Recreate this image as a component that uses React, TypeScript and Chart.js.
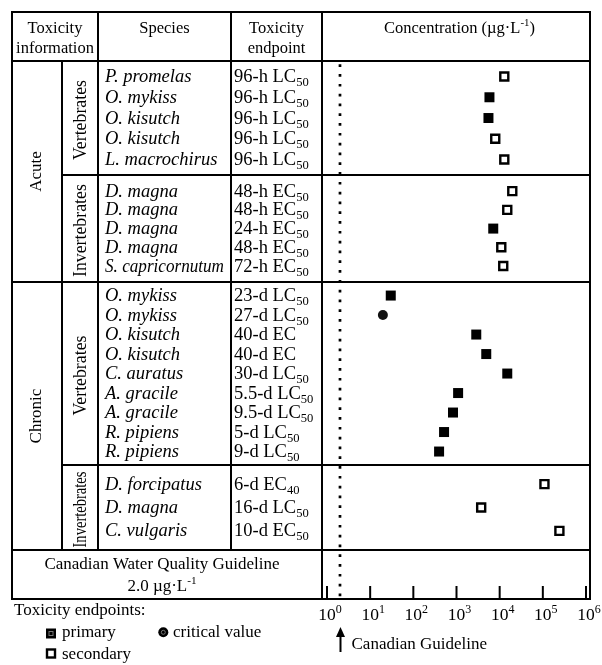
import { useEffect, useRef } from 'react';
import { Chart, registerables } from 'chart.js';

Chart.register(...registerables);

// ---------- data ----------
const GROUP_DURATION = ['Acute', 'Acute', 'Chronic', 'Chronic'];
const GROUP_TAXON = ['Vertebrates', 'Invertebrates', 'Vertebrates', 'Invertebrates'];
const GROUP_SIZE = [5, 5, 9, 3];

const SPECIES = [
  'P. promelas', 'O. mykiss', 'O. kisutch', 'O. kisutch', 'L. macrochirus',
  'D. magna', 'D. magna', 'D. magna', 'D. magna', 'S. capricornutum',
  'O. mykiss', 'O. mykiss', 'O. kisutch', 'O. kisutch', 'C. auratus',
  'A. gracile', 'A. gracile', 'R. pipiens', 'R. pipiens',
  'D. forcipatus', 'D. magna', 'C. vulgaris',
];

const ENDPOINTS = [
  '96-h LC_{50}', '96-h LC_{50}', '96-h LC_{50}', '96-h LC_{50}', '96-h LC_{50}',
  '48-h EC_{50}', '48-h EC_{50}', '24-h EC_{50}', '48-h EC_{50}', '72-h EC_{50}',
  '23-d LC_{50}', '27-d LC_{50}', '40-d EC', '40-d EC', '30-d LC_{50}',
  '5.5-d LC_{50}', '9.5-d LC_{50}', '5-d LC_{50}', '9-d LC_{50}',
  '6-d EC_{40}', '16-d LC_{50}', '10-d EC_{50}',
];

// concentration, µg/L
const CONCENTRATION = [
  12800, 5800, 5500, 7900, 12800,
  19600, 15000, 7100, 10900, 12100,
  30, 19.7, 2870, 4890, 15000,
  1090, 830, 515, 395,
  109000, 3730, 242000,
];

const ENDPOINT_TYPE = [
  'secondary', 'primary', 'primary', 'secondary', 'secondary',
  'secondary', 'secondary', 'primary', 'secondary', 'secondary',
  'primary', 'critical', 'primary', 'primary', 'primary',
  'primary', 'primary', 'primary', 'primary',
  'secondary', 'secondary', 'secondary',
];

const GUIDELINE = 2.0;
const TICK_EXPONENTS = [0, 1, 2, 3, 4, 5, 6];

// ---------- layout (row units) ----------
const GROUP_SPAN = [5.85, 5.49, 9.38, 4.36];
const GROUP_PITCH = [1.065, 0.96, 1.0, 1.2];

const rowPos: number[] = [];
const groupStart: number[] = [];
let acc = 0;
GROUP_SIZE.forEach((n, g) => {
  groupStart.push(acc);
  const first = acc + (GROUP_SPAN[g] - (n - 1) * GROUP_PITCH[g]) / 2;
  for (let i = 0; i < n; i++) rowPos.push(first + i * GROUP_PITCH[g]);
  acc += GROUP_SPAN[g];
});
groupStart.push(acc);
const Y_TOTAL = acc;

const pointsOf = (t: string) =>
  CONCENTRATION.map((c, i) => ({ x: c, y: rowPos[i], t: ENDPOINT_TYPE[i] }))
    .filter((p) => p.t === t)
    .map((p) => ({ x: p.x, y: p.y }));

const FONT = '"Liberation Serif", "Times New Roman", serif';

type Seg = { text: string; kind: 'n' | 'sup' | 'sub' };
function parseRich(s: string): Seg[] {
  const parts = s.split(/(\^\{[^}]*\}|_\{[^}]*\})/).filter((p) => p.length);
  return parts.map((p) => {
    if (p.startsWith('^{')) return { text: p.slice(2, -1), kind: 'sup' as const };
    if (p.startsWith('_{')) return { text: p.slice(2, -1), kind: 'sub' as const };
    return { text: p, kind: 'n' as const };
  });
}

function drawRich(
  ctx: CanvasRenderingContext2D,
  s: string,
  x: number,
  y: number,
  size: number,
  align: 'left' | 'center' = 'left',
  italic = false,
  maxW?: number,
) {
  const segs = parseRich(s);
  const fontFor = (k: string) => {
    const sz = k === 'n' ? size : k === 'sup' ? size * 0.66 : size * 0.68;
    return `${italic && k === 'n' ? 'italic ' : ''}${sz}px ${FONT}`;
  };
  ctx.textAlign = 'left';
  ctx.textBaseline = 'alphabetic';
  const widths = segs.map((sg) => {
    ctx.font = fontFor(sg.kind);
    return ctx.measureText(sg.text).width;
  });
  const total = widths.reduce((a, b) => a + b, 0);
  const k = maxW && total > maxW ? maxW / total : 1;
  let cx = align === 'center' ? x - (total * k) / 2 : x;
  segs.forEach((sg, i) => {
    ctx.font = fontFor(sg.kind);
    const dy = sg.kind === 'sup' ? -size * 0.4 : sg.kind === 'sub' ? size * 0.22 : 0;
    ctx.fillText(sg.text, cx, y + dy, widths[i] * k);
    cx += widths[i] * k;
  });
}

function line(ctx: CanvasRenderingContext2D, x1: number, y1: number, x2: number, y2: number) {
  ctx.beginPath();
  ctx.moveTo(x1, y1);
  ctx.lineTo(x2, y2);
  ctx.stroke();
}

const tablePlugin = {
  id: 'toxTable',
  beforeDatasetsDraw(chart: any) {
    const ctx: CanvasRenderingContext2D = chart.ctx;
    const xs = chart.scales.x;
    const ys = chart.scales.y;
    const area = chart.chartArea;
    const X0 = 12, X1 = 62, X2 = 98, X3 = 231;
    const X4 = area.left - 5;
    const X5 = area.right + 4;
    const Y0 = 12, YH = area.top;
    const YD = area.bottom;
    const YB = 599;

    ctx.save();
    ctx.strokeStyle = '#000';
    ctx.lineWidth = 2;
    ctx.lineCap = 'square';
    // outer
    line(ctx, X0, Y0, X5, Y0);
    line(ctx, X0, Y0, X0, YB);
    line(ctx, X5, Y0, X5, YB);
    line(ctx, X0, YB, X5, YB);
    line(ctx, X0, YH, X5, YH);
    line(ctx, X0, YD, X5, YD);
    // verticals
    line(ctx, X1, YH, X1, YD);
    line(ctx, X2, Y0, X2, YD);
    line(ctx, X3, Y0, X3, YD);
    line(ctx, X4, Y0, X4, YB);
    // group boundaries
    for (let g = 1; g < GROUP_SIZE.length; g++) {
      const py = Math.round(ys.getPixelForValue(groupStart[g]));
      const from = GROUP_DURATION[g] !== GROUP_DURATION[g - 1] ? X0 : X1;
      line(ctx, from, py, X5, py);
    }
    // ticks
    ctx.lineCap = 'butt';
    TICK_EXPONENTS.forEach((e) => {
      const px = xs.getPixelForValue(Math.pow(10, e));
      line(ctx, px, YB - 13, px, YB);
    });
    // guideline dotted
    const gx = xs.getPixelForValue(GUIDELINE);
    ctx.lineWidth = 2.7;
    ctx.setLineDash([2.7, 7.1]);
    line(ctx, gx, YH + 3.3, gx, YB);
    ctx.setLineDash([]);
    ctx.restore();
  },
  afterDatasetsDraw(chart: any) {
    const ctx: CanvasRenderingContext2D = chart.ctx;
    const xs = chart.scales.x;
    const ys = chart.scales.y;
    const area = chart.chartArea;
    ctx.save();
    ctx.fillStyle = '#000';

    // header
    const H = 16.5;
    drawRich(ctx, 'Toxicity', 55, 33, H, 'center');
    drawRich(ctx, 'information', 55, 53, H, 'center');
    drawRich(ctx, 'Species', 164.5, 33, H, 'center');
    drawRich(ctx, 'Toxicity', 276.5, 33, H, 'center');
    drawRich(ctx, 'endpoint', 276.5, 53, H, 'center');
    drawRich(ctx, 'Concentration (µg·L^{-1})', (area.left + area.right) / 2 + 3, 33, H, 'center');

    // rows
    const R = 18.5;
    SPECIES.forEach((sp, i) => {
      const py = ys.getPixelForValue(rowPos[i]) + 5.5;
      drawRich(ctx, sp, 105, py, R, 'left', true, 119);
      drawRich(ctx, ENDPOINTS[i], 234, py, R, 'left', false, 85);
    });

    // rotated labels
    const rot = (t: string, x: number, y: number, size: number, maxW?: number) => {
      ctx.save();
      ctx.translate(x, y);
      ctx.rotate(-Math.PI / 2);
      ctx.font = `${size}px ${FONT}`;
      ctx.textAlign = 'center';
      ctx.textBaseline = 'middle';
      if (maxW) ctx.fillText(t, 0, 0, maxW);
      else ctx.fillText(t, 0, 0);
      ctx.restore();
    };
    GROUP_TAXON.forEach((t, g) => {
      const y1 = ys.getPixelForValue(groupStart[g]);
      const y2 = ys.getPixelForValue(groupStart[g + 1]);
      const small = y2 - y1 < 100;
      rot(t, 81, (y1 + y2) / 2 + 2, 17.8, small ? 76 : undefined);
    });
    const durations = Array.from(new Set(GROUP_DURATION));
    durations.forEach((d) => {
      const gs = GROUP_DURATION.map((v, i) => (v === d ? i : -1)).filter((i) => i >= 0);
      const y1 = ys.getPixelForValue(groupStart[gs[0]]);
      const y2 = ys.getPixelForValue(groupStart[gs[gs.length - 1] + 1]);
      rot(d, 37, (y1 + y2) / 2, 17);
    });

    // bottom box
    drawRich(ctx, 'Canadian Water Quality Guideline', 162, 569, 17, 'center');
    drawRich(ctx, GUIDELINE.toFixed(1) + ' µg·L^{-1}', 162, 591, 17, 'center');

    // tick labels
    TICK_EXPONENTS.forEach((e) => {
      const px = xs.getPixelForValue(Math.pow(10, e));
      ctx.font = `17.5px ${FONT}`;
      ctx.textAlign = 'center';
      ctx.textBaseline = 'alphabetic';
      ctx.fillText('10', px, 620);
      const w = ctx.measureText('10').width;
      ctx.font = `12px ${FONT}`;
      ctx.textAlign = 'left';
      ctx.fillText(String(e), px + w / 2, 613);
    });

    // guideline arrow
    const gx = xs.getPixelForValue(GUIDELINE) + 0.5;
    ctx.strokeStyle = '#000';
    ctx.lineWidth = 2;
    line(ctx, gx, 634, gx, 652);
    ctx.beginPath();
    ctx.moveTo(gx, 627);
    ctx.lineTo(gx - 4.5, 637);
    ctx.lineTo(gx + 4.5, 637);
    ctx.closePath();
    ctx.fill();
    drawRich(ctx, 'Canadian Guideline', gx + 11, 649, 17, 'left');

    // legend
    drawRich(ctx, 'Toxicity endpoints:', 14, 615, 17, 'left');
    // primary
    ctx.fillStyle = '#000';
    ctx.fillRect(46, 628.5, 10, 10);
    ctx.strokeStyle = '#777';
    ctx.lineWidth = 1;
    ctx.strokeRect(49, 631.5, 4, 4);
    ctx.fillStyle = '#000';
    drawRich(ctx, 'primary', 62, 637, 17, 'left');
    // critical
    ctx.beginPath();
    ctx.arc(163.3, 632.3, 5, 0, Math.PI * 2);
    ctx.fill();
    ctx.strokeStyle = '#777';
    ctx.beginPath();
    ctx.arc(163.3, 632.3, 2, 0, Math.PI * 2);
    ctx.stroke();
    drawRich(ctx, 'critical value', 173, 637, 17, 'left');
    // secondary
    ctx.strokeStyle = '#000';
    ctx.lineWidth = 2.4;
    ctx.fillStyle = '#fff';
    ctx.fillRect(47, 649.5, 8, 8);
    ctx.strokeRect(47, 649.5, 8, 8);
    ctx.fillStyle = '#000';
    drawRich(ctx, 'secondary', 62, 659, 17, 'left');

    ctx.restore();
  },
};

export default function App() {
  const ref = useRef<HTMLCanvasElement | null>(null);
  useEffect(() => {
    if (!ref.current) return;
    const primary = pointsOf('primary');
    const secondary = pointsOf('secondary');
    const critical = pointsOf('critical');
    const chart = new Chart(ref.current, {
      type: 'scatter',
      data: {
        datasets: [
          {
            label: 'primary',
            data: primary,
            pointStyle: 'rect',
            pointRadius: 7.07,
            backgroundColor: '#000',
            borderColor: '#000',
            borderWidth: 0,
          },
          {
            label: 'primary-inner',
            data: primary,
            pointStyle: 'rect',
            pointRadius: 2.6,
            backgroundColor: 'rgba(0,0,0,0)',
            borderColor: '#777',
            borderWidth: 1,
          },
          {
            label: 'secondary',
            data: secondary,
            pointStyle: 'rect',
            pointRadius: 5.66,
            backgroundColor: '#fff',
            borderColor: '#000',
            borderWidth: 2.4,
          },
          {
            label: 'critical',
            data: critical,
            pointStyle: 'circle',
            pointRadius: 5,
            backgroundColor: '#111',
            borderColor: '#000',
            borderWidth: 0,
          },
          {
            label: 'critical-inner',
            data: critical,
            pointStyle: 'circle',
            pointRadius: 2,
            backgroundColor: 'rgba(0,0,0,0)',
            borderColor: '#777',
            borderWidth: 1,
          },
        ] as any,
      },
      options: {
        animation: false,
        responsive: false,
        maintainAspectRatio: false,
        events: [],
        layout: { padding: { left: 327, right: 16, top: 61, bottom: 115 } },
        scales: {
          x: { type: 'logarithmic', min: 1, max: 1e6, display: false },
          y: { type: 'linear', min: 0, max: Y_TOTAL, reverse: true, display: false },
        },
        plugins: {
          legend: { display: false },
          tooltip: { enabled: false },
        },
      } as any,
      plugins: [tablePlugin],
    });
    return () => chart.destroy();
  }, []);
  return (
    <div style={{ position: 'absolute', left: 0, top: 0, width: 602, height: 665, background: '#fff' }}>
      <canvas ref={ref} width={602} height={665} style={{ display: 'block', width: 602, height: 665 }} />
    </div>
  );
}
